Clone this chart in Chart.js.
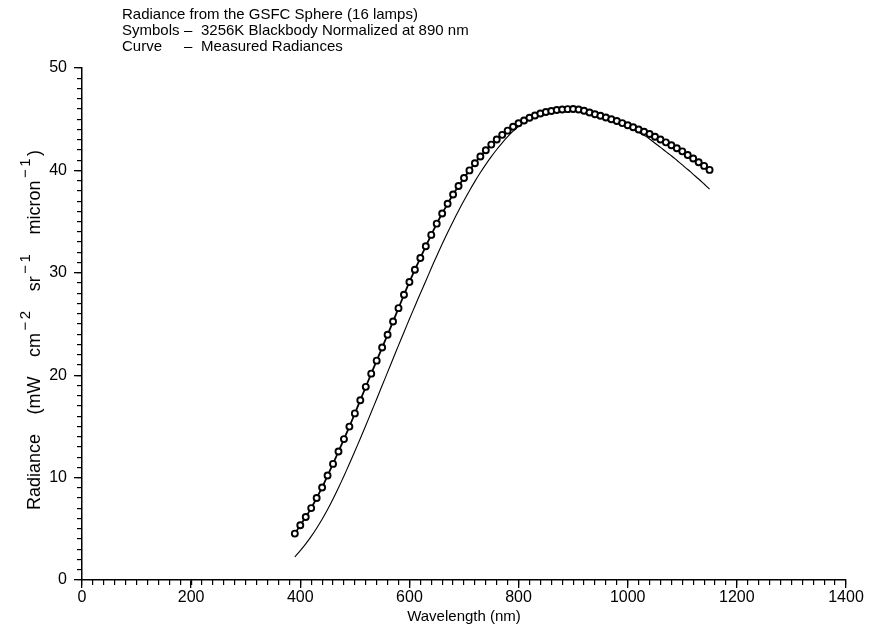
<!DOCTYPE html>
<html>
<head>
<meta charset="utf-8">
<script src="https://cdn.jsdelivr.net/npm/chart.js@4/dist/chart.umd.min.js"></script>
<style>
html,body{margin:0;padding:0;background:#fff;}
canvas{display:block;}
</style>
</head>
<body>
<canvas id="c" width="880" height="628"></canvas>
<script>
// ---- data ----
const wavelengths = [390,400,410,420,430,440,450,460,470,480,490,500,510,520,530,540,550,560,570,580,
  590,600,610,620,630,640,650,660,670,680,690,700,710,720,730,740,750,760,770,780,
  790,800,810,820,830,840,850,860,870,880,890,900,910,920,930,940,950,960,970,980,
  990,1000,1010,1020,1030,1040,1050,1060,1070,1080,1090,1100,1110,1120,1130,1140,1150];

const blackbodySymbols = [4.53,5.35,6.15,7.02,8.01,9.04,10.2,11.34,12.55,13.76,14.98,16.27,17.56,18.86,20.15,21.42,22.7,23.95,25.25,26.55,
  27.85,29.1,30.3,31.45,32.6,33.7,34.8,35.79,36.74,37.64,38.48,39.26,40.0,40.7,41.36,41.97,42.52,43.02,43.47,43.88,
  44.27,44.6,44.88,45.14,45.36,45.55,45.7,45.8,45.9,45.94,45.98,45.99,45.94,45.82,45.65,45.49,45.33,45.16,45.0,44.82,
  44.62,44.41,44.22,44.0,43.78,43.55,43.29,43.02,42.74,42.45,42.16,41.86,41.5,41.16,40.8,40.44,40.05];

const measuredRadiance = [2.25,2.87,3.53,4.26,5.06,5.93,6.88,7.91,9.01,10.16,11.35,12.57,13.82,15.09,16.38,17.68,18.99,20.3,21.61,22.91,
  24.2,25.48,26.74,27.98,29.2,30.44,31.65,32.82,33.94,35.02,36.06,37.06,38.02,38.93,39.79,40.59,41.34,42.04,42.69,43.29,
  43.83,44.3,44.71,45.06,45.33,45.53,45.68,45.78,45.85,45.89,45.91,45.9,45.84,45.73,45.6,45.41,45.22,45.03,44.85,44.66,
  44.47,44.27,44.02,43.72,43.42,43.07,42.65,42.25,41.83,41.43,40.99,40.54,40.09,39.62,39.16,38.67,38.17];

const xTickLabels = [0,200,400,600,800,1000,1200,1400];
const yTickLabels = [0,10,20,30,40,50];

const titleLine1 = 'Radiance from the GSFC Sphere (16 lamps)';
const legendNames = ['Symbols','Curve'];
const legendTexts = ['3256K Blackbody Normalized at 890 nm','Measured Radiances'];
const xTitle = 'Wavelength (nm)';
// y title pieces: [text, isSuperscript, gap kind before it]
const yTitleParts = [['Radiance',false,''],['(mW',false,'w'],['cm',false,'w'],['\u2212',true,'s'],['2',true,'s'],
  ['sr',false,'w'],['\u2212',true,'s'],['1',true,'s'],['micron',false,'w'],['\u2212',true,'s'],['1',true,'s'],[')',false,'s']];

// ---- chart ----
const FONT = '"Liberation Sans", Arial, sans-serif';
const symbolPoints = wavelengths.map((w,i)=>({x:w,y:blackbodySymbols[i]}));
const measuredPoints = wavelengths.map((w,i)=>({x:w,y:measuredRadiance[i]}));

const headerPlugin = {
  id:'header',
  afterDraw(chart){
    const ctx = chart.ctx;
    ctx.save();
    ctx.fillStyle = '#000';
    ctx.font = '15px ' + FONT;
    ctx.textBaseline = 'middle';
    ctx.textAlign = 'left';
    ctx.fillText(titleLine1, 122, 15);
    for (let i=0;i<2;i++){
      const y = 31 + i*16;
      ctx.fillText(legendNames[i], 122, y);
      ctx.fillText('\u2013', 184, y);
      ctx.fillText(legendTexts[i], 201, y);
    }
    ctx.restore();

    // rotated y-axis title with superscripts
    ctx.save();
    const mainFont = '18px ' + FONT, supFont = '15px ' + FONT;
    const widths = yTitleParts.map(p=>{ ctx.font = p[1]?supFont:mainFont; return ctx.measureText(p[0]).width; });
    const small = 2.5;
    const target = 360;
    const sumW = widths.reduce((a,b)=>a+b,0);
    const nS = yTitleParts.filter(p=>p[2]==='s').length;
    const nW = yTitleParts.filter(p=>p[2]==='w').length;
    const wordGap = Math.max(4,(target - sumW - nS*small)/nW);
    const total = sumW + nS*small + nW*wordGap;
    ctx.translate(35, 330);
    ctx.rotate(-Math.PI/2);
    ctx.fillStyle = '#000';
    ctx.textBaseline = 'middle';
    ctx.textAlign = 'left';
    let x = -total/2;
    yTitleParts.forEach((p,i)=>{
      x += p[2]==='w' ? wordGap : (p[2]==='s' ? small : 0);
      ctx.font = p[1]?supFont:mainFont;
      ctx.fillText(p[0], x, p[1] ? -9 : 0);
      x += widths[i];
    });
    ctx.restore();
  }
};

new Chart(document.getElementById('c'), {
  type:'scatter',
  data:{
    datasets:[
      {
        label:'Measured',
        data:measuredPoints,
        showLine:true,
        borderColor:'#000',
        borderWidth:1.1,
        pointRadius:0,
        tension:0.3,
        order:2
      },
      {
        label:'Blackbody',
        data:symbolPoints,
        showLine:true,
        borderColor:'#000',
        borderWidth:1.8,
        pointRadius:3,
        pointBorderWidth:1.9,
        pointBorderColor:'#000',
        pointBackgroundColor:'#fff',
        tension:0.2,
        order:1
      }
    ]
  },
  options:{
    responsive:false,
    animation:false,
    devicePixelRatio:1,
    layout:{padding:{left:0,top:68,right:34,bottom:0}},
    plugins:{legend:{display:false},tooltip:{enabled:false},title:{display:false}},
    scales:{
      x:{
        type:'linear', position:'bottom', weight:1,
        min:0, max:1400,
        afterBuildTicks(s){ s.ticks = xTickLabels.map(v=>({value:v})); },
        ticks:{color:'#000', font:{family:FONT,size:16}, padding:0, maxRotation:0, autoSkip:false,
          callback:v=>String(v)},
        grid:{drawOnChartArea:false, drawTicks:true, tickLength:8, color:'#000', lineWidth:1.3},
        border:{display:true, color:'#000', width:1.5},
        title:{display:true, text:xTitle, color:'#000', font:{family:FONT,size:15}, padding:{top:0,bottom:2}},
        afterFit(s){ s.height = 48; }
      },
      xm:{
        type:'linear', position:'bottom', weight:0,
        min:0, max:1400,
        ticks:{display:false, stepSize:20, autoSkip:false},
        grid:{drawOnChartArea:false, drawTicks:true, tickLength:5, color:'#000', lineWidth:1.2},
        border:{display:false},
        afterFit(s){ s.height = 0; }
      },
      y:{
        type:'linear', position:'left', weight:1,
        min:0, max:50,
        afterBuildTicks(s){ s.ticks = yTickLabels.map(v=>({value:v})); },
        ticks:{color:'#000', font:{family:FONT,size:16}, padding:7, autoSkip:false,
          callback:v=>String(v)},
        grid:{drawOnChartArea:false, drawTicks:true, tickLength:8, color:'#000', lineWidth:1.3},
        border:{display:true, color:'#000', width:1.5},
        title:{display:false},
        afterFit(s){ s.width = 82; }
      },
      ym:{
        type:'linear', position:'left', weight:0,
        min:0, max:50,
        ticks:{display:false, stepSize:1, autoSkip:false},
        grid:{drawOnChartArea:false, drawTicks:true, tickLength:5, color:'#000', lineWidth:1.2},
        border:{display:false},
        afterFit(s){ s.width = 0; }
      }
    }
  },
  plugins:[headerPlugin]
});
</script>
</body>
</html>
